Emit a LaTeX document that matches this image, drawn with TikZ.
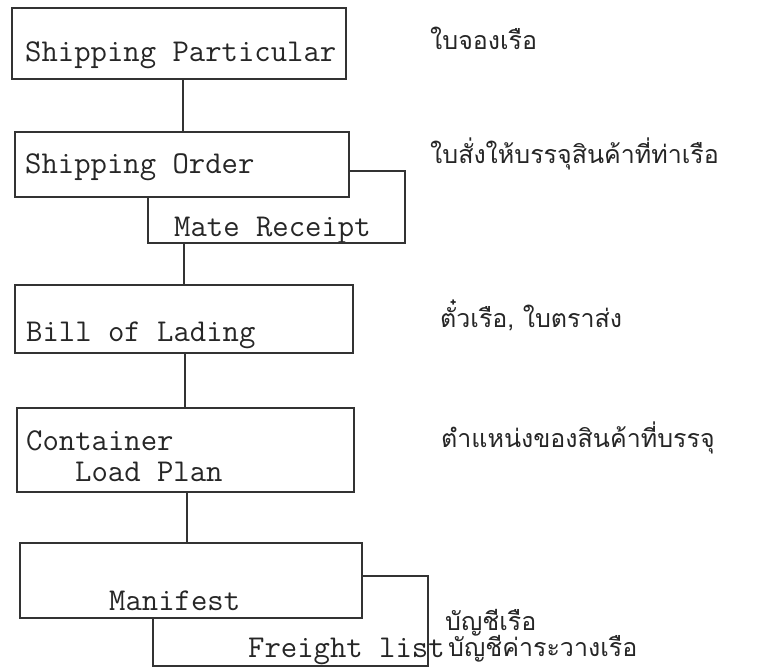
\documentclass[tikz,border=0pt]{standalone}
\usepackage{fontspec}
\newfontfamily\thaifont[Script=Thai]{Loma}
\begin{document}
\begin{tikzpicture}[x=1pt,y=-1pt,
  ln/.style={line width=1.5pt,draw=black!80},
  docbox/.style={ln,rectangle,inner sep=0pt},
  tw/.style={inner sep=0pt,anchor=base west,font=\fontsize{31.8}{34}\selectfont\ttfamily,text=black!85},
  th/.style={inner sep=0pt,anchor=base west,font=\fontsize{25}{30}\selectfont\thaifont,text=black!85}]
\useasboundingbox (0,0) rectangle (784,668);
% boxes
\node[docbox,minimum width=334pt,minimum height=71pt] (sp) at (179,43.5) {};
\node[docbox,minimum width=334pt,minimum height=65pt] (so) at (182,164.5) {};
\node[docbox,minimum width=338pt,minimum height=68pt] (bl) at (184,319) {};
\node[docbox,minimum width=337pt,minimum height=84pt] (cl) at (185.5,450) {};
\node[docbox,minimum width=342pt,minimum height=75pt] (mf) at (191,580.5) {};
% box texts
\node[tw] (tsp) at (25,62) {Shipping Particular};
\node[tw] (tso) at (25,174) {Shipping Order};
\node[tw] (tmr) at (174,237) {Mate Receipt};
\node[tw] (tbl) at (26,341) {Bill of Lading};
\node[tw] (tcl1) at (26,450) {Container};
\node[tw] (tcl2) at (75,481) {Load Plan};
\node[tw] (tmf) at (109,610) {Manifest};
\node[tw] (tfl) at (248,657) {Freight list};
% Thai texts
\node[th] (h1) at (430,50) {ใบจองเรือ};
\node[th] (h2) at (430,164) {ใบสั่งให้บรรจุสินค้าที่ท่าเรือ};
\node[th] (h3) at (440,327) {ตั๋วเรือ, ใบตราส่ง};
\node[th] (h4) at (441,447) {ตำแหน่งของสินค้าที่บรรจุ};
\node[th] (h5) at (445,630) {บัญชีเรือ};
\node[th] (h6) at (448,656) {บัญชีค่าระวางเรือ};
% mate receipt bracket
\coordinate (mr1) at (405,171);
\coordinate (mr2) at (148,243);
\draw[ln] (so.east |- mr1) -- (mr1) |- (mr2) -- (mr2 |- so.south);
% freight list bracket
\coordinate (fl1) at (428,576);
\coordinate (fl2) at (153,666);
\draw[ln] (mf.east |- fl1) -- (fl1) |- (fl2) -- (fl2 |- mf.south);
% connectors
\draw[ln] (sp.south) ++(4,0) coordinate (c1) -- (c1 |- so.north);
\coordinate (c2) at (184,243);
\draw[ln] (c2) -- (c2 |- bl.north);
\draw[ln] (bl.south) ++(1,0) coordinate (c3) -- (c3 |- cl.north);
\draw[ln] (cl.south) ++(1.5,0) coordinate (c4) -- (c4 |- mf.north);
\end{tikzpicture}
\end{document}
